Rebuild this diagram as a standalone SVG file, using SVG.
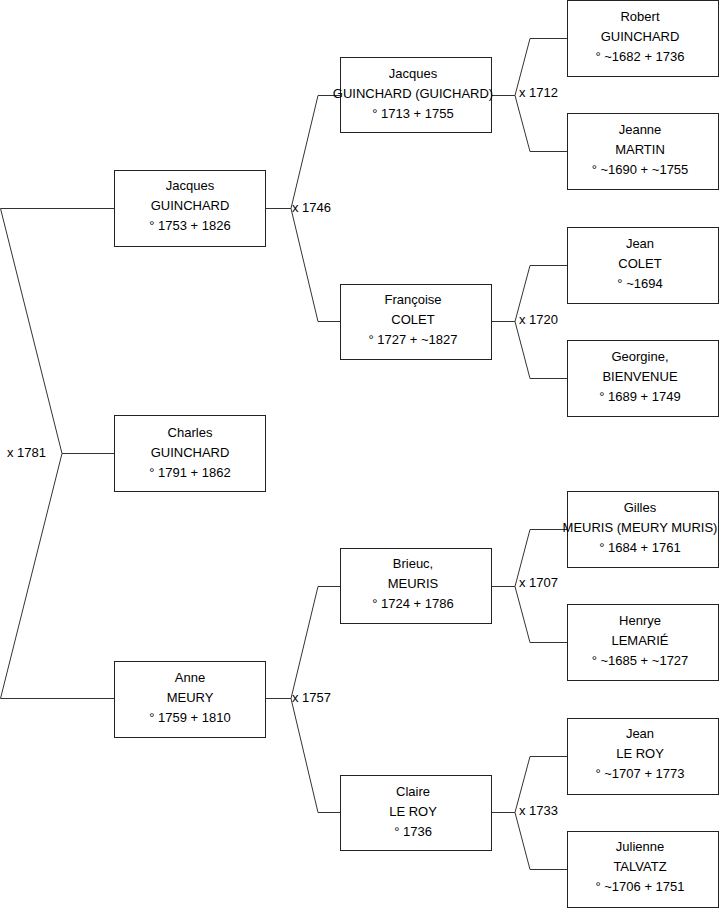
<svg xmlns="http://www.w3.org/2000/svg" width="719" height="908" viewBox="0 0 719 908">
<style>
.box{fill:#fff;stroke:#222;stroke-width:1}
.t{font-family:"Liberation Sans",Arial,sans-serif;font-size:13px;fill:#000;text-anchor:middle}
.l{font-family:"Liberation Sans",Arial,sans-serif;font-size:13px;fill:#000}
.c{fill:none;stroke:#333;stroke-width:1}
</style>
<rect width="719" height="908" fill="#fff"/>
<g id="connectors">
<path class="c" d="M114 208.5H0.5L62 453.5H114M62 453.5L0.5 698.5H114"/>
<path class="c" d="M265 208.5H291L318 95.5H340M291 208.5L318 321.5H340"/>
<path class="c" d="M265 698.5H291L318 586.5H340M291 698.5L318 812.5H340"/>
<path class="c" d="M491 95.5H515L530 38.5H567M515 95.5L530 151.5H567"/>
<path class="c" d="M491 321.5H515L530 265.5H567M515 321.5L530 378.5H567"/>
<path class="c" d="M491 586.5H515L530 529.5H567M515 586.5L530 642.5H567"/>
<path class="c" d="M491 812.5H515L530 756.5H567M515 812.5L530 869.5H567"/>
<text class="l" x="7" y="457">x 1781</text>
<text class="l" x="292" y="212">x 1746</text>
<text class="l" x="292" y="702">x 1757</text>
<text class="l" x="519" y="97">x 1712</text>
<text class="l" x="519" y="324">x 1720</text>
<text class="l" x="519" y="587">x 1707</text>
<text class="l" x="519" y="815">x 1733</text>
</g>
<g id="jacques1753"><rect class="box" x="114.5" y="170.5" width="151" height="76"/><text class="t" x="190" y="190">Jacques</text><text class="t" x="190" y="210">GUINCHARD</text><text class="t" x="190" y="230">° 1753 + 1826</text></g>
<g id="charles"><rect class="box" x="114.5" y="415.5" width="151" height="76"/><text class="t" x="190" y="437">Charles</text><text class="t" x="190" y="457">GUINCHARD</text><text class="t" x="190" y="477">° 1791 + 1862</text></g>
<g id="anne"><rect class="box" x="114.5" y="661.5" width="151" height="76"/><text class="t" x="190" y="682">Anne</text><text class="t" x="190" y="702">MEURY</text><text class="t" x="190" y="722">° 1759 + 1810</text></g>
<g id="jacques1713"><rect class="box" x="340.5" y="57.5" width="151" height="75"/><text class="t" x="413" y="78">Jacques</text><text class="t" x="413" y="98">GUINCHARD (GUICHARD)</text><text class="t" x="413" y="118">° 1713 + 1755</text></g>
<g id="francoise"><rect class="box" x="340.5" y="284.5" width="151" height="75"/><text class="t" x="413" y="304">Françoise</text><text class="t" x="413" y="324">COLET</text><text class="t" x="413" y="344">° 1727 + ~1827</text></g>
<g id="brieuc"><rect class="box" x="340.5" y="548.5" width="151" height="75"/><text class="t" x="413" y="568">Brieuc,</text><text class="t" x="413" y="588">MEURIS</text><text class="t" x="413" y="608">° 1724 + 1786</text></g>
<g id="claire"><rect class="box" x="340.5" y="775.5" width="151" height="75"/><text class="t" x="413" y="796">Claire</text><text class="t" x="413" y="816">LE ROY</text><text class="t" x="413" y="836">° 1736</text></g>
<g id="robert"><rect class="box" x="567.5" y="0.5" width="151" height="76"/><text class="t" x="640" y="21">Robert</text><text class="t" x="640" y="41">GUINCHARD</text><text class="t" x="640" y="61">° ~1682 + 1736</text></g>
<g id="jeanne"><rect class="box" x="567.5" y="113.5" width="151" height="76"/><text class="t" x="640" y="134">Jeanne</text><text class="t" x="640" y="154">MARTIN</text><text class="t" x="640" y="174">° ~1690 + ~1755</text></g>
<g id="jeancolet"><rect class="box" x="567.5" y="227.5" width="151" height="76"/><text class="t" x="640" y="248">Jean</text><text class="t" x="640" y="268">COLET</text><text class="t" x="640" y="288">° ~1694</text></g>
<g id="georgine"><rect class="box" x="567.5" y="340.5" width="151" height="76"/><text class="t" x="640" y="361">Georgine,</text><text class="t" x="640" y="381">BIENVENUE</text><text class="t" x="640" y="401">° 1689 + 1749</text></g>
<g id="gilles"><rect class="box" x="567.5" y="491.5" width="151" height="76"/><text class="t" x="640" y="512">Gilles</text><text class="t" x="640" y="532">MEURIS (MEURY MURIS)</text><text class="t" x="640" y="552">° 1684 + 1761</text></g>
<g id="henrye"><rect class="box" x="567.5" y="604.5" width="151" height="76"/><text class="t" x="640" y="625">Henrye</text><text class="t" x="640" y="645">LEMARIÉ</text><text class="t" x="640" y="665">° ~1685 + ~1727</text></g>
<g id="jeanleroy"><rect class="box" x="567.5" y="718.5" width="151" height="76"/><text class="t" x="640" y="738">Jean</text><text class="t" x="640" y="758">LE ROY</text><text class="t" x="640" y="778">° ~1707 + 1773</text></g>
<g id="julienne"><rect class="box" x="567.5" y="831.5" width="151" height="76"/><text class="t" x="640" y="851">Julienne</text><text class="t" x="640" y="871">TALVATZ</text><text class="t" x="640" y="891">° ~1706 + 1751</text></g>
</svg>
